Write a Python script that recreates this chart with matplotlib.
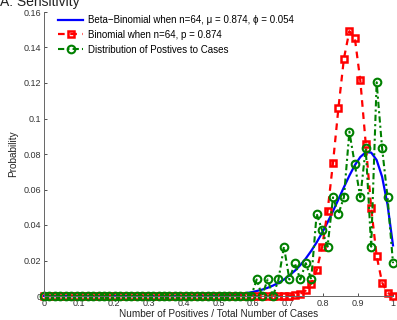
import numpy as np
import matplotlib
matplotlib.use('Agg')
import matplotlib.pyplot as plt
from matplotlib.ticker import FormatStrFormatter

plt.rcParams['font.family'] = ['Liberation Sans', 'DejaVu Sans']

n_cases = 64
k = np.arange(0, n_cases + 1)
x = k / n_cases

# beta-binomial fit (k = 0..64)
beta_binom = [0] * 30 + [
    0.0002, 0.0003, 0.0004, 0.0005, 0.0007, 0.0009, 0.0012, 0.0016, 0.0021, 0.0028,
    0.0036, 0.0046, 0.0059, 0.0074, 0.0093, 0.0116, 0.0142, 0.0174, 0.0211, 0.0254,
    0.0302, 0.0356, 0.0415, 0.0478, 0.0545, 0.0613, 0.0678, 0.0737, 0.0783, 0.0810,
    0.0808, 0.0766, 0.0672, 0.0514, 0.0285]

# binomial, red squares
binom = [0] * 45 + [
    0.0002, 0.0005, 0.0013, 0.0031, 0.0070, 0.0145, 0.0276, 0.0478, 0.0751, 0.1061,
    0.1338, 0.1492, 0.1453, 0.1216, 0.0858, 0.0496, 0.0226, 0.0076, 0.0017, 0.0002]

# observed distribution, green circles
observed = [0] * 39 + [
    0.0093, 0, 0.0093, 0, 0.0093, 0.0278, 0.0093, 0.0185, 0.0093, 0.0185,
    0.0093, 0.0463, 0.0370, 0.0278, 0.0556, 0.0463, 0.0556, 0.0926, 0.0741, 0.0556,
    0.0833, 0.0278, 0.1204, 0.0833, 0.0556, 0.0185]

legends = ['Beta\u2212Binomial when n=64, \u03bc = 0.874, \u03d5 = 0.054',
           'Binomial when n=64, p = 0.874',
           'Distribution of Postives to Cases']

fig = plt.figure(figsize=(3.97, 3.2), dpi=100)
ax = fig.add_axes([44 / 397, 24 / 320, 349 / 397, 284 / 320])

ax.plot(x, beta_binom, color='#0000ff', lw=1.6, label=legends[0], clip_on=False)
ax.plot(x, binom, color='#ff0000', lw=1.6, ls=(0, (3, 2.5)), marker='s', ms=5,
        mfc='none', mew=1.8, label=legends[1], clip_on=False)
ax.plot(x, observed, color='#008000', lw=1.5, ls=(0, (3, 1.5, 1, 1.5)), marker='o',
        ms=5.5, mfc='none', mew=1.5, label=legends[2], clip_on=False)

ax.set_xlim(0, 1)
ax.set_ylim(0, 0.16)
ax.set_xticks(np.arange(0, 1.01, 0.1))
ax.set_yticks(np.arange(0, 0.161, 0.02))
ax.xaxis.set_major_formatter(FormatStrFormatter('%g'))
ax.yaxis.set_major_formatter(FormatStrFormatter('%g'))
ax.tick_params(direction='in', length=2.5, width=0.6, labelsize=6.5,
               colors='#333333', pad=2)
for s in ['top', 'right']:
    ax.spines[s].set_visible(False)
for s in ['left', 'bottom']:
    ax.spines[s].set_color('#666666')
    ax.spines[s].set_linewidth(0.7)

ax.set_xlabel('Number of Positives / Total Number of Cases', fontsize=7.2,
              color='#222222', labelpad=1)
ax.set_ylabel('Probability', fontsize=7.2, color='#222222', labelpad=4)

leg = ax.legend(loc='upper left', bbox_to_anchor=(58 / 397, 1 - 15 / 320),
                bbox_transform=fig.transFigure, frameon=False, fontsize=7,
                handlelength=2.6, handletextpad=0.5, labelspacing=0.5,
                borderpad=0, borderaxespad=0)

fig.text(0.0, 1 - 6 / 320, 'A: Sensitivity', fontsize=10, va='baseline',
         ha='left', color='#222222')

fig.savefig('out.png', dpi=100)
